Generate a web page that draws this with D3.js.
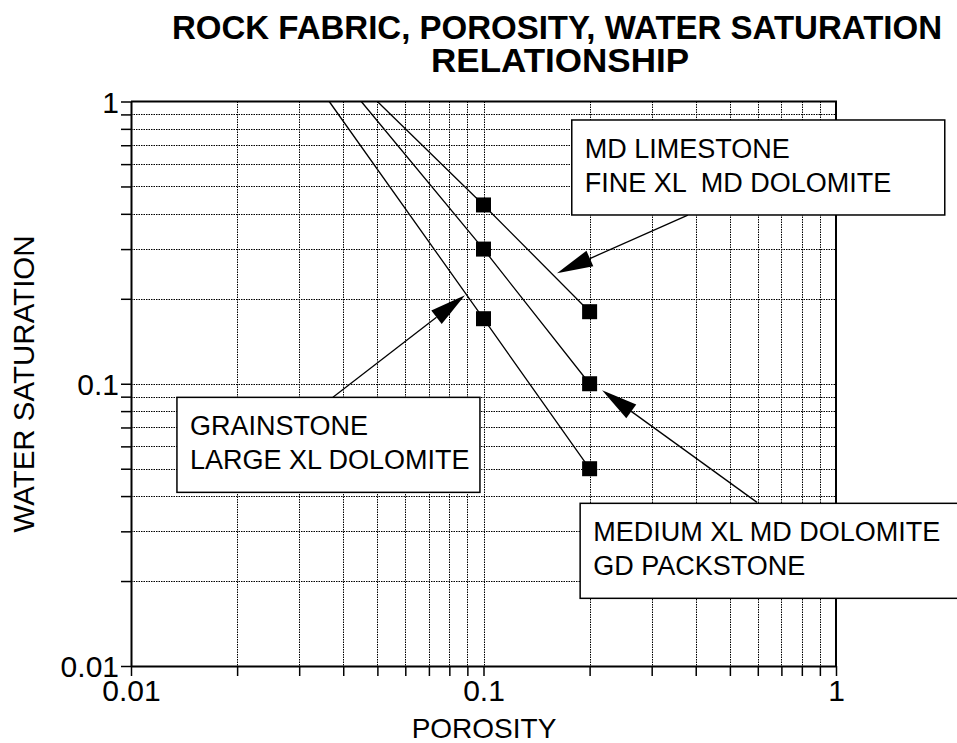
<!DOCTYPE html>
<html>
<head>
<meta charset="utf-8">
<script src="https://cdn.jsdelivr.net/npm/d3@7"></script>
<style>
  body { margin: 0; background: #fff; }
  text { font-family: "Liberation Sans", Arial, Helvetica, sans-serif; fill: #000; }
</style>
</head>
<body>
<script>
// porosity (fraction) where data were measured
const porosity = [0.1, 0.2];
// water saturation for each rock fabric trend
const swUpper = [0.43, 0.18];   // MD limestone / fine xl MD dolomite
const swMiddle = [0.30, 0.10];  // medium xl MD dolomite / GD packstone
const swLower = [0.17, 0.05];   // grainstone / large xl dolomite
// porosity where each trend line leaves Sw = 1
const lineStart = [0.050, 0.045, 0.0365];
const decades = [0.01, 0.1, 1];

const labelLines = [
  ["MD LIMESTONE", "FINE XL  MD DOLOMITE"],
  ["GRAINSTONE", "LARGE XL DOLOMITE"],
  ["MEDIUM XL MD DOLOMITE", "GD PACKSTONE"]
];
// annotation anchors in data units [porosity, sw]
const boxAt = [[0.178, 0.86], [0.0135, 0.0895], [0.188, 0.0377]];
const arrowFrom = [[0.38, 0.396], [0.0374, 0.0895], [0.597, 0.038]];
const arrowTo = [[0.1616, 0.2465], [0.0886, 0.206], [0.217, 0.0948]];

const width = 957;
const height = 743;
const boxW = [373, 303, 390];
const boxH = 95;

const svg = d3.select("body")
  .append("svg")
  .attr("width", width)
  .attr("height", height);

const x = d3.scaleLog().domain([0.01, 1]).range([131, 836]);
const y = d3.scaleLog().domain([0.01, 1]).range([666, 101.5]);

const isDecade = d => Math.abs(Math.log10(d) - Math.round(Math.log10(d))) < 1e-9;

// dotted grid
const grid = svg.append("g").attr("stroke", "#000").attr("stroke-width", 1)
  .attr("stroke-dasharray", "1.5,1");
grid.selectAll(".gx")
  .data(x.ticks().filter(d => d > 0.01 && d < 1))
  .enter()
  .append("line")
  .attr("x1", d => Math.round(x(d)) + 0.5)
  .attr("x2", d => Math.round(x(d)) + 0.5)
  .attr("y1", y(1))
  .attr("y2", y(0.01));
grid.selectAll(".gy")
  .data(y.ticks().filter(d => d > 0.01 && d < 1))
  .enter()
  .append("line")
  .attr("y1", d => Math.round(y(d)) + 0.5)
  .attr("y2", d => Math.round(y(d)) + 0.5)
  .attr("x1", x(0.01))
  .attr("x2", x(1));

// axes
const xAxis = d3.axisBottom(x)
  .tickValues(x.ticks())
  .tickFormat(d => isDecade(d) ? String(d) : "")
  .tickSize(10)
  .tickSizeOuter(0)
  .tickPadding(4);
const yAxis = d3.axisLeft(y)
  .tickValues(y.ticks())
  .tickFormat(d => isDecade(d) ? String(d) : "")
  .tickSize(10)
  .tickSizeOuter(0)
  .tickPadding(2);

const gx = svg.append("g").attr("transform", `translate(0,${y(0.01)})`).call(xAxis);
const gy = svg.append("g").attr("transform", `translate(${x(0.01)},0)`).call(yAxis);
[gx, gy].forEach(g => {
  g.selectAll("line").attr("stroke", "#000").attr("stroke-width", 1.5);
  g.select(".domain").attr("stroke", "#000").attr("stroke-width", 2);
  g.selectAll("text").attr("font-size", 30).attr("fill", "#000")
    .style("font-family", '"Liberation Sans", Arial, sans-serif');
});
gy.selectAll("text").attr("dy", "0.36em");

// frame top & right
svg.append("path")
  .attr("d", `M${x(0.01)},${y(1)}H${x(1)}V${y(0.01)}`)
  .attr("fill", "none")
  .attr("stroke", "#000")
  .attr("stroke-width", 2);

// trend lines
const series = [swUpper, swMiddle, swLower];
const line = d3.line().x(d => x(d[0])).y(d => y(d[1]));
svg.selectAll(".trend")
  .data(series)
  .enter()
  .append("path")
  .attr("class", "trend")
  .attr("d", (s, i) => line([[lineStart[i], 1], [porosity[0], s[0]], [porosity[1], s[1]]]))
  .attr("fill", "none")
  .attr("stroke", "#000")
  .attr("stroke-width", 1.3);

// square markers
const pts = series.flatMap(s => s.map((v, j) => [porosity[j], v]));
svg.selectAll(".pt")
  .data(pts)
  .enter()
  .append("rect")
  .attr("x", d => x(d[0]) - 7.5)
  .attr("y", d => y(d[1]) - 7.5)
  .attr("width", 15)
  .attr("height", 15)
  .attr("fill", "#000");

// annotation arrows
arrowFrom.forEach((f, i) => {
  const x0 = x(f[0]), y0 = y(f[1]);
  const x1 = x(arrowTo[i][0]), y1 = y(arrowTo[i][1]);
  const len = Math.hypot(x1 - x0, y1 - y0);
  const ux = (x1 - x0) / len, uy = (y1 - y0) / len;
  const hl = 36, hw = 8.5;
  const bx = x1 - ux * hl, by = y1 - uy * hl;
  svg.append("line")
    .attr("x1", x0).attr("y1", y0)
    .attr("x2", bx).attr("y2", by)
    .attr("stroke", "#000")
    .attr("stroke-width", 1.3);
  svg.append("path")
    .attr("d", `M${x1},${y1}L${bx - uy * hw},${by + ux * hw}L${bx + uy * hw},${by - ux * hw}Z`)
    .attr("fill", "#000");
});

// annotation boxes
boxAt.forEach((b, i) => {
  const bx = x(b[0]), by = y(b[1]);
  const g = svg.append("g").attr("transform", `translate(${bx},${by})`);
  g.append("rect")
    .attr("width", boxW[i])
    .attr("height", boxH)
    .attr("fill", "#fff")
    .attr("stroke", "#000")
    .attr("stroke-width", 1.5);
  g.selectAll("text")
    .data(labelLines[i])
    .enter()
    .append("text")
    .attr("x", 13)
    .attr("y", (d, k) => 38 + k * 34)
    .attr("font-size", 27)
    .style("white-space", "pre")
    .text(d => d);
});

// titles
svg.append("text")
  .attr("x", 557).attr("y", 39)
  .attr("text-anchor", "middle")
  .attr("font-size", 33)
  .attr("font-weight", "bold")
  .attr("textLength", 770)
  .attr("lengthAdjust", "spacingAndGlyphs")
  .text("ROCK FABRIC, POROSITY, WATER SATURATION");
svg.append("text")
  .attr("x", 560).attr("y", 72)
  .attr("text-anchor", "middle")
  .attr("font-size", 33)
  .attr("font-weight", "bold")
  .attr("textLength", 258)
  .attr("lengthAdjust", "spacingAndGlyphs")
  .text("RELATIONSHIP");

svg.append("text")
  .attr("x", 484).attr("y", 738)
  .attr("text-anchor", "middle")
  .attr("font-size", 28)
  .text("POROSITY");
svg.append("text")
  .attr("transform", "translate(34,384) rotate(-90)")
  .attr("text-anchor", "middle")
  .attr("font-size", 29.5)
  .text("WATER SATURATION");
</script>
</body>
</html>
